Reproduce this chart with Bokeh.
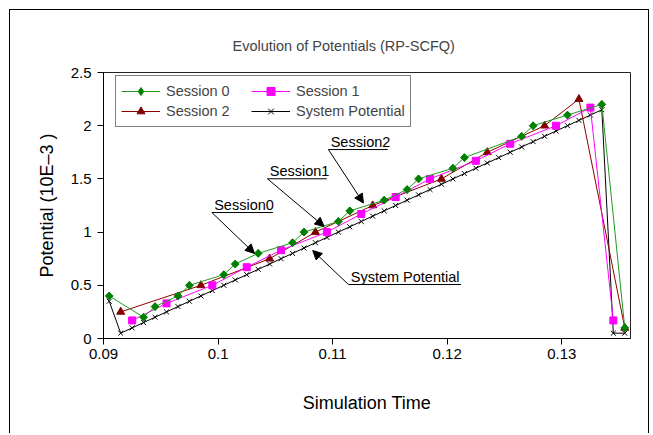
from bokeh.plotting import figure
from bokeh.models import (Legend, LegendItem, FixedTicker, CustomJSTickFormatter,
                          Arrow, NormalHead, Label, Range1d)
from bokeh.embed import file_html
from bokeh.resources import INLINE

# ---------------- data ----------------
sys_x = [0.0905, 0.0915, 0.0925, 0.0935, 0.0945, 0.0955, 0.0965, 0.0975, 0.0985, 0.0995,
         0.1005, 0.1015, 0.1025, 0.1035, 0.1045, 0.1055, 0.1065, 0.1075, 0.1085, 0.1095,
         0.1105, 0.1115, 0.1125, 0.1135, 0.1145, 0.1155, 0.1165, 0.1175, 0.1185, 0.1195,
         0.1205, 0.1215, 0.1225, 0.1235, 0.1245, 0.1255, 0.1265, 0.1275, 0.1285, 0.1295,
         0.1305, 0.1315, 0.1325, 0.1335, 0.1345, 0.1355]
sys_y = [0.35, 0.05, 0.10, 0.15, 0.20, 0.25, 0.30, 0.35, 0.40, 0.45,
         0.50, 0.55, 0.60, 0.65, 0.70, 0.75, 0.80, 0.85, 0.90, 0.95,
         1.00, 1.05, 1.10, 1.15, 1.20, 1.25, 1.30, 1.35, 1.40, 1.45,
         1.50, 1.55, 1.60, 1.65, 1.70, 1.75, 1.80, 1.85, 1.90, 1.95,
         2.00, 2.05, 2.10, 2.15, 0.05, 0.05]

s0_x = [0.0905, 0.0935, 0.0945, 0.0965, 0.0975, 0.1005, 0.1015, 0.1035, 0.1065, 0.1075,
        0.1105, 0.1115, 0.1145, 0.1165, 0.1175, 0.1205, 0.1215, 0.1265, 0.1275, 0.1305,
        0.1335, 0.1355]
s0_y = [0.4, 0.2, 0.3, 0.4, 0.5, 0.6, 0.7, 0.8, 0.9, 1.0,
        1.1, 1.2, 1.3, 1.4, 1.5, 1.6, 1.7, 1.9, 2.0, 2.1,
        2.2, 0.1]

s1_x = [0.0925, 0.0955, 0.0995, 0.1025, 0.1055, 0.1095, 0.1125, 0.1155, 0.1185, 0.1225,
        0.1255, 0.1295, 0.1325, 0.1345]
s1_y = [0.17, 0.33, 0.50, 0.67, 0.83, 1.00, 1.17, 1.33, 1.50, 1.67,
        1.83, 2.00, 2.17, 0.17]

s2_x = [0.0915, 0.0985, 0.1045, 0.1085, 0.1135, 0.1195, 0.1235, 0.1285, 0.1315, 0.1355]
s2_y = [0.25, 0.50, 0.75, 1.00, 1.25, 1.50, 1.75, 2.00, 2.25, 0.10]

x_ticks = [0.09, 0.10, 0.11, 0.12, 0.13]
y_ticks = [0, 0.5, 1, 1.5, 2, 2.5]

title_text = "Evolution of Potentials (RP-SCFQ)"
x_label = "Simulation Time"
y_label = "Potential (10E\u20133 )"

# callouts: label, underline start x, underline y, underline end x, arrow tip x, arrow tip y
callouts = [
    ("Session0", 0.09946, 1.184, 0.10478, 0.10318, 0.800),
    ("Session1", 0.10431, 1.501, 0.10949, 0.10926, 1.053),
    ("Session2", 0.10963, 1.776, 0.11482, 0.11269, 1.273),
    ("System Potential", 0.11138, 0.5075, 0.12121, 0.10826, 0.827),
]

FONT = "Liberation Sans"

p = figure(width=640, height=424, output_backend="svg", toolbar_location=None,
           x_range=Range1d(0.09, 0.136), y_range=Range1d(0, 2.5),
           min_border_left=93, min_border_right=20, min_border_top=62, min_border_bottom=96)
p.margin = (9, 0, 0, 9)
p.styles = {"border-left": "1px solid black", "border-top": "1px solid black",
            "border-right": "1px solid black"}

p.xgrid.visible = False
p.ygrid.visible = False
p.outline_line_color = "#222222"
p.outline_line_width = 1
p.background_fill_color = "white"
p.border_fill_color = "white"

p.title.text = title_text
p.title.text_font = FONT
p.title.text_font_size = "14.5px"
p.title.text_font_style = "normal"
p.title.align = "left"
p.title.offset = 129
p.title.standoff = 38

for ax, ticks in ((p.xaxis[0], x_ticks), (p.yaxis[0], y_ticks)):
    ax.ticker = FixedTicker(ticks=ticks)
    ax.formatter = CustomJSTickFormatter(code="return String(tick);")
    ax.minor_tick_line_color = None
    ax.major_tick_in = 0
    ax.major_tick_out = 6
    ax.major_label_text_font = FONT
    ax.major_label_text_font_size = "15px"
    ax.major_label_text_color = "black"
    ax.axis_label_text_font = FONT
    ax.axis_label_text_font_size = "18px"
    ax.axis_label_text_font_style = "normal"
    ax.axis_label_text_color = "black"
    ax.axis_line_color = "black"
    ax.major_tick_line_color = "black"

p.xaxis.axis_label = x_label
p.yaxis.axis_label = y_label
p.xaxis.major_label_standoff = 4
p.yaxis.major_label_standoff = 6
p.xaxis.axis_label_standoff = 31
p.yaxis.axis_label_standoff = 11

# series (draw green last so it sits on top)
sys_l = p.line(sys_x, sys_y, line_color="black", line_width=1)
sys_m = p.scatter(sys_x, sys_y, marker="x", size=7, line_color="black", line_width=1)

s2_l = p.line(s2_x, s2_y, line_color="#8b0000", line_width=1)
s2_m = p.scatter(s2_x, s2_y, marker="triangle", size=8, fill_color="#800000",
                 line_color="#800000")

s1_l = p.line(s1_x, s1_y, line_color="#ff00ff", line_width=1)
s1_m = p.scatter(s1_x, s1_y, marker="square", size=7, fill_color="#ff00ff",
                 line_color="#ff00ff")

s0_l = p.line(s0_x, s0_y, line_color="#1f9a1f", line_width=1)
# diamond glyph (used as legend key), covered by rotated squares on the plot
s0_key = p.scatter(s0_x, s0_y, marker="diamond", size=7.5,
                   fill_color="#008000", line_color="#008000")
s0_m = p.scatter(s0_x, s0_y, marker="square", angle=0.785398, size=5.5,
                 fill_color="#008000", line_color="#008000")

# callouts
for text, tx, ty, ux_end, ax_tip, ay_tip in callouts:
    p.segment(x0=[tx], y0=[ty], x1=[ux_end], y1=[ty], line_color="black", line_width=1)
    p.add_layout(Arrow(end=NormalHead(size=9, fill_color="black", line_color="black"),
                       x_start=tx, y_start=ty, x_end=ax_tip, y_end=ay_tip,
                       line_color="black", line_width=1))
    p.add_layout(Label(x=tx + 0.0002, y=ty + 0.075, text=text, text_font=FONT,
                       text_font_size="14.5px", text_color="black",
                       text_baseline="alphabetic", text_align="left"))

legend = Legend(items=[
    LegendItem(label="Session 0", renderers=[s0_l, s0_key]),
    LegendItem(label="Session 2", renderers=[s2_l, s2_m]),
    LegendItem(label="Session 1", renderers=[s1_l, s1_m]),
    LegendItem(label="System Potential", renderers=[sys_l, sys_m]),
], ncols=2, location=(12, 211))
legend.margin = 0
legend.padding = 5
legend.spacing = 0
legend.glyph_width = 39
legend.glyph_height = 20
legend.label_height = 20
legend.label_width = 85
legend.label_standoff = 6
legend.label_text_font = FONT
legend.label_text_font_size = "14.5px"
legend.border_line_color = "black"
legend.border_line_width = 1
legend.background_fill_color = "white"
legend.background_fill_alpha = 1
p.add_layout(legend)

open("out.html", "w").write(file_html(p, INLINE))
